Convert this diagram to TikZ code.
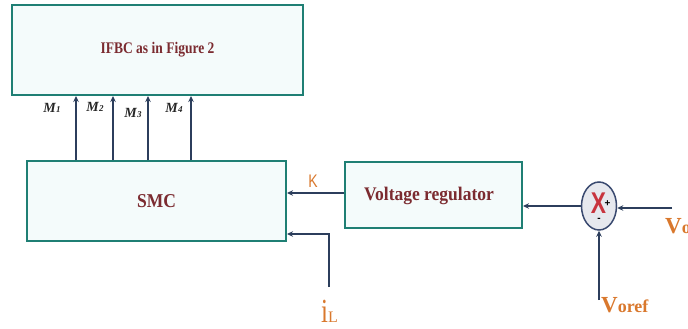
\documentclass[tikz,border=0pt]{standalone}
\usepackage{fontspec}
\setmainfont{Liberation Serif}
\newfontfamily\sansf{Liberation Sans}
\usetikzlibrary{arrows.meta,shapes.geometric}
\definecolor{boxdraw}{HTML}{1F7F74}
\definecolor{boxfill}{HTML}{F4FBFB}
\definecolor{arrowcol}{HTML}{2C3E5C}
\definecolor{textred}{HTML}{7B2B30}
\definecolor{lblorange}{HTML}{D9782D}
\definecolor{sumfill}{HTML}{E6E8EE}
\definecolor{sumdraw}{HTML}{3A4A70}
\definecolor{xred}{HTML}{C8343E}
\tikzset{
  blockbox/.style={draw=boxdraw, line width=2pt, fill=boxfill, inner sep=0pt},
  blocktext/.style={text=textred, font=\bfseries},
  arr/.style={draw=arrowcol, line width=1.7pt, -{Stealth[length=6pt,width=5.5pt]}},
  mlabel/.style={font=\fontsize{14}{14}\selectfont\bfseries\itshape, text=black!85, inner sep=0pt},
  olabel/.style={text=lblorange, inner sep=0pt}
}
\newcommand{\msub}[1]{M\kern0.3pt{\fontsize{9}{9}\selectfont #1}}
\begin{document}
\begin{tikzpicture}[x=1pt,y=-1pt]
\useasboundingbox (0,0) rectangle (688,329);
% blocks
\node[blockbox, minimum width=291pt, minimum height=90pt] (ifbc) at (157.5,50) {};
\node[blocktext, font=\fontsize{13.5}{13.5}\selectfont\bfseries] at (ifbc.center) {\scalebox{1}[1.2]{IFBC as in Figure 2}};
\node[blockbox, minimum width=259pt, minimum height=80pt] (smc) at (156.5,201) {};
\node[blocktext, font=\fontsize{17.5}{17.5}\selectfont\bfseries] at (smc.center) {\scalebox{1}[1.12]{SMC}};
\node[blockbox, minimum width=177pt, minimum height=66pt] (vr) at (433.5,195) {};
\node[blocktext, font=\fontsize{17.5}{17.5}\selectfont\bfseries] at (429,196) {\scalebox{1}[1.1]{Voltage regulator}};
% summing junction
\node[ellipse, draw=sumdraw, line width=1.5pt, fill=sumfill, minimum width=35pt, minimum height=48pt, inner sep=0pt] (sum) at (599,206) {};
\node[text=xred, font=\sansf\bfseries\fontsize{24}{24}\selectfont, inner sep=0pt] at (598.5,203) {\scalebox{0.95}[1.25]{X}};
\node[font=\sansf\bfseries\fontsize{10}{10}\selectfont, inner sep=0pt] (plus) at (607.5,204) {+};
\node[font=\sansf\bfseries\fontsize{10}{10}\selectfont, inner sep=0pt] (minus) at (599,220) {-};
% M arrows
\foreach \xx/\lx/\ly/\nn in {76/52/108/1, 113/95/107/2, 148/133/113/3, 191/174/108/4}{
  \draw[arr] (smc.north -| \xx,0) -- (ifbc.south -| \xx,0);
  \node[mlabel] (m\nn) at (\lx,\ly) {\msub{\nn}};
}
% K arrow
\draw[arr] (vr.west |- 0,193) -- (smc.east |- 0,193);
\node[olabel, font=\sansf\fontsize{14}{14}\selectfont] (k) at (313,181) {\scalebox{1}[1.3]{K}};
% iL
\coordinate (ilstart) at (329,287);
\draw[arr] (ilstart) |- (smc.east |- 0,234);
\node[olabel, anchor=base west] (il) at (321,322) {{\fontsize{25}{25}\selectfont \scalebox{1}[1.35]{i}}{\fontsize{16}{16}\selectfont L}};
% sum to VR
\draw[arr] (sum.west) -- (vr.east |- sum.west);
% Vo
\coordinate (vostart) at (672,208);
\draw[arr] (vostart) -- (vostart -| sum.east);
\node[olabel, anchor=base west, font=\bfseries] (vo) at (665,233) {{\fontsize{23}{23}\selectfont V}{\fontsize{18}{18}\selectfont o}};
% Voref
\coordinate (vorefstart) at (599,300);
\draw[arr] (vorefstart) -- (sum.south);
\node[olabel, anchor=base west, font=\bfseries] (voref) at (601,312) {{\fontsize{23}{23}\selectfont V}{\fontsize{18}{18}\selectfont oref}};
\end{tikzpicture}
\end{document}
